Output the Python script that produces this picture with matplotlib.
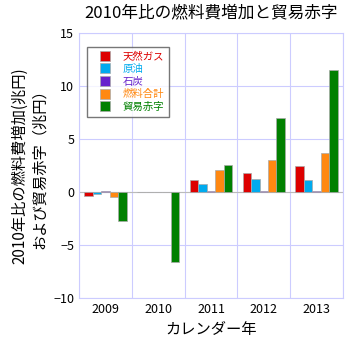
import numpy as np
import matplotlib
matplotlib.use("Agg")
import matplotlib.pyplot as plt
from matplotlib.lines import Line2D

plt.rcParams['font.family'] = ['Noto Sans CJK JP', 'DejaVu Sans']

# Values in trillion yen, change versus 2010
years = ["2009", "2010", "2011", "2012", "2013"]
series_names = ["天然ガス", "原油", "石炭", "燃料合計", "貿易赤字"]
gas = [-0.35, 0.0, 1.1, 1.75, 2.45]
oil = [-0.2, 0.0, 0.8, 1.2, 1.1]
coal = [0.05, 0.0, 0.1, 0.05, 0.1]
fuel_total = [-0.5, 0.0, 2.05, 3.0, 3.65]
trade_deficit = [-2.7, -6.65, 2.55, 6.95, 11.5]
colors = ["#dd0000", "#00aaee", "#6622cc", "#ff8811", "#008000"]

fig = plt.figure(figsize=(3.5, 3.59), dpi=100)
ax = fig.add_axes([0.226, 0.170, 0.754, 0.738])

x = np.arange(len(years)) + 0.5
width = 0.16
all_series = [gas, oil, coal, fuel_total, trade_deficit]
for i, (vals, name, col) in enumerate(zip(all_series, series_names, colors)):
    ax.bar(x + (i - 2) * width, vals, width, color=col, edgecolor="#aaaaaa",
           linewidth=0.5, label=name, zorder=3)

ax.axhline(0, color="#bbbbbb", linewidth=0.8, zorder=2)
ax.set_xlim(0, len(years))
ax.set_ylim(-10, 15)
ax.set_yticks([-10, -5, 0, 5, 10, 15])
ax.set_xticks(x)
ax.set_xticklabels(years)
ax.set_xticks(np.arange(len(years) + 1), minor=True)
ax.grid(True, which="minor", axis="x", color="#ccccff", linewidth=0.8)
ax.grid(True, which="major", axis="y", color="#ccccff", linewidth=0.8)
ax.tick_params(which="both", length=0, labelsize=9)
for s in ax.spines.values():
    s.set_color("#ccccff")

# square markers centred in a wide handle box
handles = [Line2D([], [], marker="s", linestyle="", markersize=7,
                  color=col, markeredgecolor="#aaaaaa", markeredgewidth=0.5)
           for col in colors]
leg = ax.legend(handles, series_names, loc="upper left",
                bbox_to_anchor=(0.03, 0.948), borderaxespad=0, fontsize=7.5,
                frameon=True, fancybox=False, handlelength=2.6,
                labelspacing=0.25, handletextpad=0.35, borderpad=0.45)
leg.get_frame().set_edgecolor("#555555")
leg.get_frame().set_linewidth(1.0)
for t, col in zip(leg.get_texts(), colors):
    t.set_color(col)

ax.set_title("2010年比の燃料費増加と貿易赤字", fontsize=12, pad=11)
ax.set_xlabel("カレンダー年", fontsize=11)
ax.set_ylabel("2010年比の燃料費増加(兆円)\nおよび貿易赤字（兆円）", fontsize=11)

fig.savefig("out.png", dpi=100)
